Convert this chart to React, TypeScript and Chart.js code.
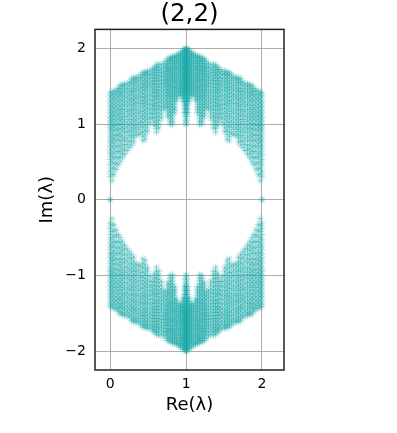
import React, { useEffect, useRef } from "react";
import { Chart, registerables } from "chart.js";

Chart.register(...registerables);

const chartTitle = "(2,2)";
const xLabel = "Re(λ)";
const yLabel = "Im(λ)";
const xTicks = [0, 1, 2];
const yTicks = [-2, -1, 0, 1, 2];

// Upper-left quadrant of the spectrum.
const reColumns = [
  0, 0.025, 0.05, 0.08, 0.105, 0.13, 0.16, 0.19, 0.225, 0.25, 0.28, 0.31, 0.34, 0.375, 0.4, 0.43, 0.46, 0.49, 0.525, 0.555, 0.58, 0.61, 0.64,
  0.675, 0.705, 0.735, 0.76, 0.79, 0.82, 0.85, 0.875, 0.905, 0.93, 0.96, 0.98, 1,
];
const imColumns = [
  [0, 0.31, 0.38, 0.46, 0.53, 0.6, 0.66, 0.72, 0.78, 0.84, 0.9, 0.95, 1.0, 1.05, 1.1, 1.15, 1.2, 1.25, 1.3, 1.36, 1.41],
  [0.25, 0.34, 0.42, 0.5, 0.57, 0.63, 0.7, 0.76, 0.81, 0.87, 0.93, 0.98, 1.03, 1.08, 1.13, 1.18, 1.23, 1.28, 1.33, 1.38, 1.42],
  [0.33, 0.41, 0.48, 0.55, 0.61, 0.68, 0.74, 0.8, 0.85, 0.91, 0.96, 1.01, 1.06, 1.11, 1.16, 1.21, 1.26, 1.31, 1.35, 1.4, 1.44],
  [0.4, 0.48, 0.56, 0.64, 0.71, 0.78, 0.85, 0.92, 0.98, 1.04, 1.1, 1.16, 1.22, 1.28, 1.34, 1.39, 1.44],
  [0.46, 0.55, 0.63, 0.71, 0.79, 0.86, 0.93, 1.0, 1.07, 1.13, 1.19, 1.25, 1.31, 1.37, 1.43, 1.47],
  [0.5, 0.57, 0.64, 0.7, 0.77, 0.83, 0.88, 0.94, 0.99, 1.04, 1.09, 1.14, 1.19, 1.24, 1.29, 1.33, 1.38, 1.42, 1.47, 1.51],
  [0.55, 0.61, 0.67, 0.73, 0.79, 0.85, 0.91, 0.96, 1.01, 1.06, 1.11, 1.16, 1.21, 1.26, 1.31, 1.36, 1.4, 1.44, 1.49, 1.52],
  [0.6, 0.66, 0.72, 0.78, 0.83, 0.89, 0.94, 0.99, 1.04, 1.09, 1.14, 1.19, 1.24, 1.28, 1.33, 1.37, 1.42, 1.46, 1.5, 1.53],
  [0.65, 0.73, 0.81, 0.89, 0.96, 1.03, 1.1, 1.17, 1.23, 1.29, 1.35, 1.41, 1.47, 1.53],
  [0.69, 0.77, 0.85, 0.92, 0.99, 1.06, 1.13, 1.19, 1.26, 1.32, 1.38, 1.44, 1.5, 1.55],
  [0.72, 0.78, 0.84, 0.9, 0.95, 1.01, 1.06, 1.11, 1.16, 1.2, 1.25, 1.3, 1.34, 1.39, 1.43, 1.47, 1.52, 1.56, 1.6],
  [0.76, 0.82, 0.87, 0.93, 0.98, 1.03, 1.08, 1.13, 1.18, 1.23, 1.27, 1.32, 1.36, 1.41, 1.45, 1.49, 1.54, 1.58, 1.61],
  [0.85, 0.9, 0.95, 1.0, 1.05, 1.1, 1.15, 1.2, 1.25, 1.29, 1.34, 1.38, 1.43, 1.47, 1.51, 1.55, 1.59, 1.62],
  [0.86, 0.93, 1.0, 1.07, 1.14, 1.2, 1.27, 1.33, 1.39, 1.45, 1.51, 1.57, 1.62],
  [0.88, 0.96, 1.03, 1.1, 1.17, 1.24, 1.3, 1.36, 1.42, 1.48, 1.54, 1.6, 1.65],
  [0.78, 0.84, 0.9, 0.96, 1.02, 1.07, 1.12, 1.17, 1.22, 1.27, 1.31, 1.36, 1.4, 1.45, 1.49, 1.53, 1.57, 1.61, 1.65, 1.68],
  [0.8, 0.86, 0.92, 0.98, 1.04, 1.09, 1.14, 1.19, 1.24, 1.28, 1.33, 1.37, 1.42, 1.46, 1.5, 1.54, 1.58, 1.62, 1.66, 1.69],
  [0.9, 0.95, 1.0, 1.06, 1.11, 1.16, 1.21, 1.26, 1.3, 1.35, 1.39, 1.44, 1.48, 1.52, 1.56, 1.6, 1.64, 1.67, 1.7],
  [1.02, 1.08, 1.14, 1.2, 1.26, 1.32, 1.38, 1.44, 1.5, 1.55, 1.6, 1.65, 1.7],
  [1.08, 1.14, 1.2, 1.25, 1.31, 1.37, 1.42, 1.47, 1.52, 1.57, 1.62, 1.67, 1.72],
  [0.98, 1.03, 1.08, 1.13, 1.18, 1.23, 1.27, 1.32, 1.36, 1.41, 1.45, 1.49, 1.53, 1.57, 1.61, 1.65, 1.69, 1.72, 1.75],
  [0.89, 0.94, 0.99, 1.04, 1.09, 1.14, 1.19, 1.24, 1.28, 1.33, 1.37, 1.41, 1.45, 1.49, 1.53, 1.57, 1.61, 1.65, 1.68, 1.72, 1.75, 1.78],
  [0.95, 1.0, 1.05, 1.1, 1.15, 1.2, 1.24, 1.29, 1.33, 1.37, 1.41, 1.45, 1.49, 1.53, 1.57, 1.6, 1.64, 1.68, 1.71, 1.75, 1.79],
  [1.08, 1.13, 1.18, 1.23, 1.28, 1.33, 1.38, 1.43, 1.48, 1.53, 1.58, 1.63, 1.68, 1.73, 1.78],
  [1.2, 1.25, 1.3, 1.35, 1.4, 1.45, 1.5, 1.54, 1.58, 1.62, 1.66, 1.7, 1.75, 1.8],
  [1.22, 1.27, 1.32, 1.37, 1.42, 1.46, 1.5, 1.54, 1.58, 1.62, 1.66, 1.7, 1.74, 1.78, 1.83],
  [1.1, 1.14, 1.18, 1.22, 1.26, 1.3, 1.34, 1.38, 1.41, 1.45, 1.49, 1.52, 1.56, 1.59, 1.63, 1.66, 1.7, 1.73, 1.76, 1.79, 1.83, 1.86],
  [1.0, 1.04, 1.08, 1.12, 1.16, 1.2, 1.24, 1.28, 1.32, 1.36, 1.39, 1.43, 1.46, 1.5, 1.53, 1.57, 1.6, 1.63, 1.67, 1.7, 1.73, 1.76, 1.8, 1.83, 1.86, 1.88],
  [0.99, 1.03, 1.07, 1.11, 1.15, 1.19, 1.23, 1.26, 1.3, 1.34, 1.37, 1.41, 1.44, 1.48, 1.51, 1.55, 1.58, 1.61, 1.65, 1.68, 1.71, 1.74, 1.77, 1.8, 1.83, 1.86, 1.89],
  [1.15, 1.19, 1.22, 1.26, 1.3, 1.33, 1.37, 1.4, 1.44, 1.47, 1.5, 1.54, 1.57, 1.6, 1.63, 1.66, 1.7, 1.73, 1.76, 1.79, 1.82, 1.85, 1.88, 1.9],
  [1.32, 1.36, 1.4, 1.44, 1.48, 1.52, 1.56, 1.6, 1.64, 1.68, 1.72, 1.76, 1.8, 1.84, 1.88, 1.91],
  [1.38, 1.42, 1.46, 1.5, 1.54, 1.58, 1.62, 1.66, 1.7, 1.74, 1.78, 1.82, 1.86, 1.9, 1.93],
  [1.38, 1.41, 1.44, 1.47, 1.5, 1.53, 1.56, 1.59, 1.62, 1.65, 1.68, 1.71, 1.74, 1.77, 1.8, 1.83, 1.86, 1.89, 1.92, 1.95],
  [1.3, 1.34, 1.37, 1.4, 1.43, 1.46, 1.49, 1.52, 1.55, 1.58, 1.61, 1.64, 1.67, 1.7, 1.73, 1.76, 1.79, 1.82, 1.85, 1.88, 1.91, 1.94, 1.97],
  [1.15, 1.2, 1.25, 1.3, 1.34, 1.38, 1.42, 1.45, 1.48, 1.51, 1.54, 1.57, 1.6, 1.63, 1.66, 1.69, 1.72, 1.75, 1.78, 1.81, 1.84, 1.87, 1.9, 1.93, 1.96, 1.98],
  [1.0, 1.05, 1.1, 1.15, 1.2, 1.25, 1.3, 1.35, 1.39, 1.43, 1.47, 1.5, 1.53, 1.56, 1.59, 1.62, 1.65, 1.68, 1.71, 1.74, 1.77, 1.8, 1.83, 1.86, 1.89, 1.92, 1.95, 1.98, 2],
];

const quadrant = reColumns.flatMap((re, i) => imColumns[i].map((im) => ({ x: re, y: im })));
// The spectrum is symmetric about Re = 1 and Im = 0: the other quadrants reflect the read values.
const spectrum = quadrant.flatMap((p) => [
  { x: p.x, y: p.y },
  { x: p.x, y: -p.y },
  { x: 2 - p.x, y: p.y },
  { x: 2 - p.x, y: -p.y },
]);

const FONT = "'DejaVu Sans'";
const TEXT = "#000";

export default function App() {
  const ref = useRef<HTMLCanvasElement>(null);
  useEffect(() => {
    document.body.style.margin = "0";
    const frame = {
      id: "frame",
      afterDatasetsDraw(chart: any) {
        const { left, top, width, height } = chart.chartArea;
        const c = chart.ctx;
        c.save();
        c.strokeStyle = "#222";
        c.lineWidth = 1.5;
        c.strokeRect(left, top, width, height);
        c.restore();
      },
    };
    const axisGrid = { color: "#adadad", lineWidth: 1, drawTicks: false };
    const chart = new Chart(ref.current!, {
      type: "scatter",
      data: {
        datasets: [
          {
            data: spectrum,
            pointStyle: "star",
            pointRadius: 3.8,
            pointBorderWidth: 0.75,
            pointBorderColor: "rgba(28,170,170,0.42)",
            pointBackgroundColor: "rgba(28,170,170,0.42)",
          },
        ],
      },
      plugins: [frame],
      options: {
        animation: false,
        responsive: false,
        layout: { padding: { left: 0, top: 0, right: 113, bottom: 0 } },
        plugins: {
          legend: { display: false },
          tooltip: { enabled: false },
          title: {
            display: true,
            fullSize: false,
            text: chartTitle,
            color: TEXT,
            font: { family: FONT, size: 24.5, weight: "normal", lineHeight: 1.2 },
            padding: { top: 0, bottom: 0 },
          } as any,
        },
        scales: {
          x: {
            type: "linear",
            min: -0.2,
            max: 2.29,
            grid: axisGrid,
            border: { display: false },
            afterBuildTicks: (s: any) => {
              s.ticks = xTicks.map((value) => ({ value }));
            },
            afterFit: (s: any) => {
              s.height = 63;
            },
            ticks: { color: TEXT, font: { family: FONT, size: 14 }, padding: 6, maxRotation: 0 },
            title: {
              display: true,
              text: xLabel,
              color: TEXT,
              font: { family: FONT, size: 18, lineHeight: 1.2 },
              padding: { top: 0, bottom: 17 },
            },
          },
          y: {
            type: "linear",
            min: -2.25,
            max: 2.25,
            grid: axisGrid,
            border: { display: false },
            afterBuildTicks: (s: any) => {
              s.ticks = yTicks.map((value) => ({ value }));
            },
            afterFit: (s: any) => {
              s.width = 95;
            },
            ticks: {
              color: TEXT,
              font: { family: FONT, size: 14 },
              padding: 9,
              callback: (v: any) => String(v).replace("-", "\u2212"),
            },
            title: {
              display: true,
              text: yLabel,
              color: TEXT,
              font: { family: FONT, size: 18, lineHeight: 1.2 },
              padding: { top: 37, bottom: 0 },
            },
          },
        },
      },
    } as any);
    return () => chart.destroy();
  }, []);
  return <canvas ref={ref} width={397} height={433} style={{ display: "block" }} />;
}
